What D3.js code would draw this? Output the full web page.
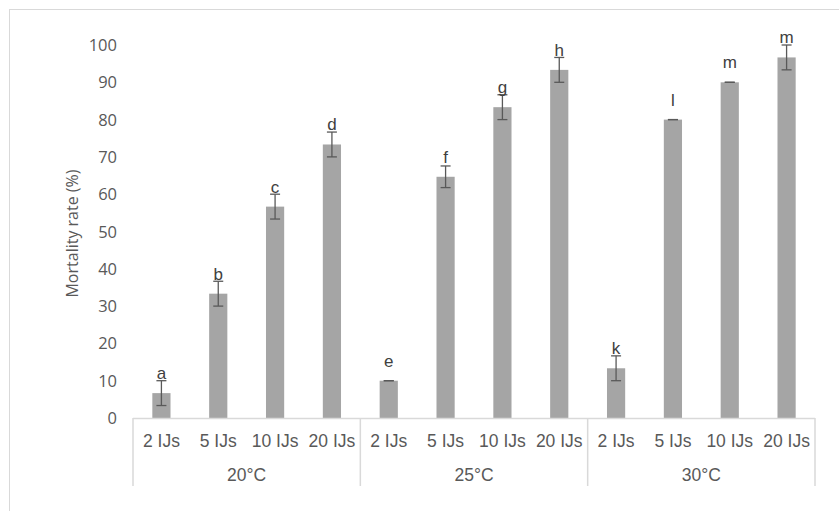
<!DOCTYPE html>
<html>
<head>
<meta charset="utf-8">
<script src="https://cdn.jsdelivr.net/npm/d3@7"></script>
<style>
  body { margin: 0; background: #fff; }
  svg text { fill: #595959; }
</style>
</head>
<body>
<div id="chart"></div>
<script>
// Data
const temperatures = ["20°C", "25°C", "30°C"];
const doses = ["2 IJs", "5 IJs", "10 IJs", "20 IJs"];
const mortality20 = [6.67, 33.33, 56.67, 73.33];
const mortality25 = [10, 64.67, 83.33, 93.33];
const mortality30 = [13.33, 80, 90, 96.67];
const error20 = [3.33, 3.33, 3.33, 3.33];
const error25 = [0, 2.9, 3.33, 3.33];
const error30 = [3.33, 0, 0, 3.33];
const letters20 = ["a", "b", "c", "d"];
const letters25 = ["e", "f", "g", "h"];
const letters30 = ["k", "l", "m", "m"];
const yTicks = [0, 10, 20, 30, 40, 50, 60, 70, 80, 90, 100];

const W = 839, H = 511;
const PLOT = { left: 133, right: 815, top: 45, bottom: 418 };

const means = [mortality20, mortality25, mortality30];
const errors = [error20, error25, error30];
const letters = [letters20, letters25, letters30];

const data = [];
temperatures.forEach((t, i) => {
    doses.forEach((d, j) => {
        data.push({ temp: t, dose: d, value: means[i][j], err: errors[i][j], letter: letters[i][j] });
    });
});

const svg = d3.select("#chart").append("svg")
    .attr("width", W)
    .attr("height", H);

// chart frame
svg.append("rect")
    .attr("x", 9.5).attr("y", 9.5)
    .attr("width", W + 20).attr("height", H + 20)
    .attr("fill", "none")
    .attr("stroke", "#d9d9d9");

const x0 = d3.scaleBand()
    .domain(temperatures)
    .range([PLOT.left, PLOT.right])
    .padding(0);

const x1 = d3.scaleBand()
    .domain(doses)
    .range([0, x0.bandwidth()])
    .paddingInner(0.68)
    .paddingOuter(0.34);

const y = d3.scaleLinear()
    .domain([0, 100])
    .range([PLOT.bottom, PLOT.top]);

// Y axis tick labels
svg.append("g")
    .selectAll("text")
    .data(yTicks)
    .join("text")
    .attr("x", 117)
    .attr("y", d => y(d) + 6)
    .attr("text-anchor", "end")
    .style("font-family", "'Open Sans', sans-serif")
    .style("font-size", "16.5px")
    .text(d => d);

// Y axis label
svg.append("text")
    .attr("transform", `translate(78, ${(PLOT.top + PLOT.bottom) / 2 + 2}) rotate(-90)`)
    .attr("text-anchor", "middle")
    .style("font-family", "'Open Sans', sans-serif")
    .style("font-size", "16px")
    .text("Mortality rate (%)");

// Bars
const barX = d => x0(d.temp) + x1(d.dose);

svg.append("g")
    .selectAll("rect")
    .data(data)
    .join("rect")
    .attr("x", barX)
    .attr("y", d => y(d.value))
    .attr("width", x1.bandwidth())
    .attr("height", d => y(0) - y(d.value))
    .attr("fill", "#a5a5a5");

// Error bars
const eb = svg.append("g")
    .attr("stroke", "#595959")
    .attr("stroke-width", 1.3);

data.forEach(d => {
    const cx = barX(d) + x1.bandwidth() / 2;
    const yt = y(d.value + d.err), yb = y(d.value - d.err);
    eb.append("line").attr("x1", cx).attr("x2", cx).attr("y1", yt).attr("y2", yb);
    eb.append("line").attr("x1", cx - 5).attr("x2", cx + 5).attr("y1", yt).attr("y2", yt);
    eb.append("line").attr("x1", cx - 5).attr("x2", cx + 5).attr("y1", yb).attr("y2", yb);
});

// Significance letters
svg.append("g")
    .selectAll("text")
    .data(data)
    .join("text")
    .attr("x", d => barX(d) + x1.bandwidth() / 2)
    .attr("y", d => y(d.value) - 14)
    .attr("text-anchor", "middle")
    .style("font-family", "'Liberation Sans', Arial, sans-serif")
    .style("font-size", "17px")
    .style("fill", "#404040")
    .text(d => d.letter);

// Baseline
svg.append("line")
    .attr("x1", PLOT.left).attr("x2", PLOT.right)
    .attr("y1", y(0) + 0.5).attr("y2", y(0) + 0.5)
    .attr("stroke", "#d9d9d9")
    .attr("stroke-width", 1.5);

// Group separators
const seps = temperatures.map(t => x0(t)).concat([PLOT.right]);
svg.append("g")
    .selectAll("line")
    .data(seps)
    .join("line")
    .attr("x1", d => d).attr("x2", d => d)
    .attr("y1", y(0)).attr("y2", 486)
    .attr("stroke", "#d9d9d9")
    .attr("stroke-width", 1.5);

// Dose labels
svg.append("g")
    .selectAll("text")
    .data(data)
    .join("text")
    .attr("x", d => barX(d) + x1.bandwidth() / 2)
    .attr("y", 446.5)
    .attr("text-anchor", "middle")
    .style("font-family", "'Liberation Sans', Arial, sans-serif")
    .style("font-size", "17.5px")
    .text(d => d.dose);

// Temperature labels
svg.append("g")
    .selectAll("text")
    .data(temperatures)
    .join("text")
    .attr("x", d => x0(d) + x0.bandwidth() / 2)
    .attr("y", 480.5)
    .attr("text-anchor", "middle")
    .style("font-family", "'Liberation Sans', Arial, sans-serif")
    .style("font-size", "17.5px")
    .text(d => d);
</script>
</body>
</html>
